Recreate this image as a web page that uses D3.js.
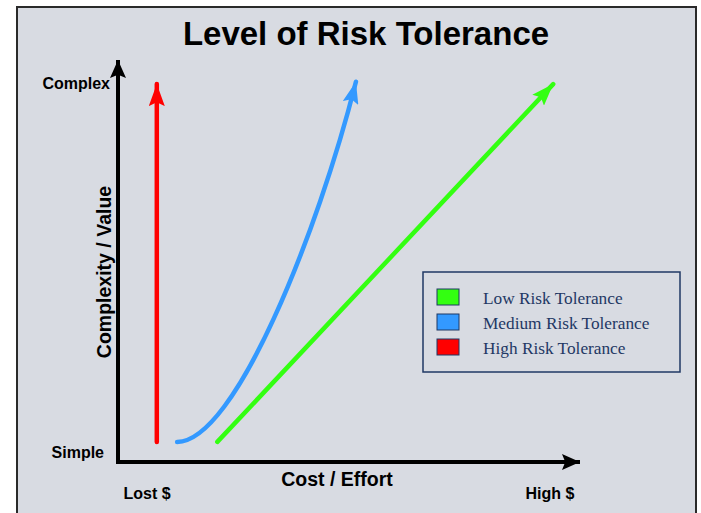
<!DOCTYPE html>
<html lang="en">
<head>
<meta charset="utf-8">
<title>Level of Risk Tolerance</title>
<script src="https://d3js.org/d3.v7.min.js"></script>
<style>
  body { margin: 0; background: #fff; }
  svg { font-family: 'Liberation Sans', Arial, sans-serif; }
</style>
</head>
<body>
<script>
// data (x = cost/effort, y = complexity/value, 0..100)
const seriesNames = ["Low Risk Tolerance", "Medium Risk Tolerance", "High Risk Tolerance"];
const seriesColors = ["#33ff11", "#3399ff", "#ff0000"];
const lowRisk = [[21.5, 5], [94.2, 94]];
// medium: cubic bezier (start, control 1, control 2, end)
const mediumRisk = [[12.8, 5], [25.3, 5], [43.3, 57.2], [51.5, 94.6]];
const highRisk = [[8.4, 5], [8.4, 94]];
const xTickLabels = ["Lost $", "High $"];
const yTickLabels = ["Simple", "Complex"];

const W = 701, H = 513;
const svg = d3.select("body").append("svg").attr("width", W).attr("height", H);

const x = d3.scaleLinear().domain([0, 100]).range([118, 580]);
const y = d3.scaleLinear().domain([0, 100]).range([462, 60]);

// panel
svg.append("rect").attr("x", 17).attr("y", 7).attr("width", 679).attr("height", 520)
  .attr("fill", "#d8dbe2").attr("stroke", "#2a2a2a").attr("stroke-width", 2);

// arrow markers
const defs = svg.append("defs");
function marker(id, color, w, l) {
  defs.append("marker").attr("id", id)
    .attr("markerUnits", "userSpaceOnUse")
    .attr("viewBox", `0 ${-w / 2} ${l} ${w}`)
    .attr("refX", l).attr("refY", 0)
    .attr("markerWidth", l).attr("markerHeight", w)
    .attr("orient", "auto")
    .append("path").attr("d", `M0,${-w / 2}L${l},0L0,${w / 2}L${l * 0.18},0Z`).attr("fill", color);
}
marker("ax", "#000", 16, 18);
seriesColors.forEach((c, i) => marker("m" + i, c, 16, 22));

// axes
svg.append("path")
  .attr("d", `M${x(0)},${y(0)}L${x(0)},${y(100)}`)
  .attr("stroke", "#000").attr("stroke-width", 4).attr("fill", "none")
  .attr("marker-end", "url(#ax)");
svg.append("path")
  .attr("d", `M${x(0) - 2},${y(0)}L${x(100)},${y(0)}`)
  .attr("stroke", "#000").attr("stroke-width", 4).attr("fill", "none")
  .attr("marker-end", "url(#ax)");

// series
const line = d3.line().x(d => x(d[0])).y(d => y(d[1]));
function bezier(pts) {
  const p = d3.path();
  const s = pts.map(d => [x(d[0]), y(d[1])]);
  p.moveTo(s[0][0], s[0][1]);
  p.bezierCurveTo(s[1][0], s[1][1], s[2][0], s[2][1], s[3][0], s[3][1]);
  return p.toString();
}
[lowRisk, mediumRisk, highRisk].forEach((pts, i) => {
  svg.append("path")
    .attr("d", i === 1 ? bezier(pts) : line(pts))
    .attr("stroke", seriesColors[i]).attr("stroke-width", 4.5)
    .attr("stroke-linecap", "round").attr("fill", "none")
    .attr("marker-end", `url(#m${i})`);
});

// title
svg.append("text").attr("x", 366).attr("y", 45).attr("text-anchor", "middle")
  .attr("font-size", 33).attr("font-weight", "bold").text("Level of Risk Tolerance");

// tick labels
svg.append("text").attr("x", 104).attr("y", 458).attr("text-anchor", "end")
  .attr("font-size", 16).attr("font-weight", "bold").text(yTickLabels[0]);
svg.append("text").attr("x", 110).attr("y", 89).attr("text-anchor", "end")
  .attr("font-size", 16).attr("font-weight", "bold").text(yTickLabels[1]);
svg.append("text").attr("x", 147).attr("y", 499).attr("text-anchor", "middle")
  .attr("font-size", 16).attr("font-weight", "bold").text(xTickLabels[0]);
svg.append("text").attr("x", 550).attr("y", 499).attr("text-anchor", "middle")
  .attr("font-size", 16).attr("font-weight", "bold").text(xTickLabels[1]);

// axis titles
svg.append("text").attr("x", 337).attr("y", 486).attr("text-anchor", "middle")
  .attr("font-size", 19.5).attr("font-weight", "bold").text("Cost / Effort");
svg.append("text").attr("transform", "translate(111,272) rotate(-90)").attr("text-anchor", "middle")
  .attr("font-size", 19.5).attr("font-weight", "bold").text("Complexity / Value");

// legend
const lg = svg.append("g");
lg.append("rect").attr("x", 423).attr("y", 272).attr("width", 257).attr("height", 100)
  .attr("fill", "none").attr("stroke", "#1f3864").attr("stroke-width", 1.5);
seriesNames.forEach((n, i) => {
  lg.append("rect").attr("x", 437).attr("y", 289 + i * 25).attr("width", 22).attr("height", 16)
    .attr("fill", seriesColors[i]).attr("stroke", "#1f3864").attr("stroke-width", 1);
  lg.append("text").attr("x", 483).attr("y", 304 + i * 25)
    .attr("font-family", "'Liberation Serif', 'Times New Roman', serif")
    .attr("font-size", 17.3).attr("fill", "#1f3864").text(n);
});
</script>
</body>
</html>
